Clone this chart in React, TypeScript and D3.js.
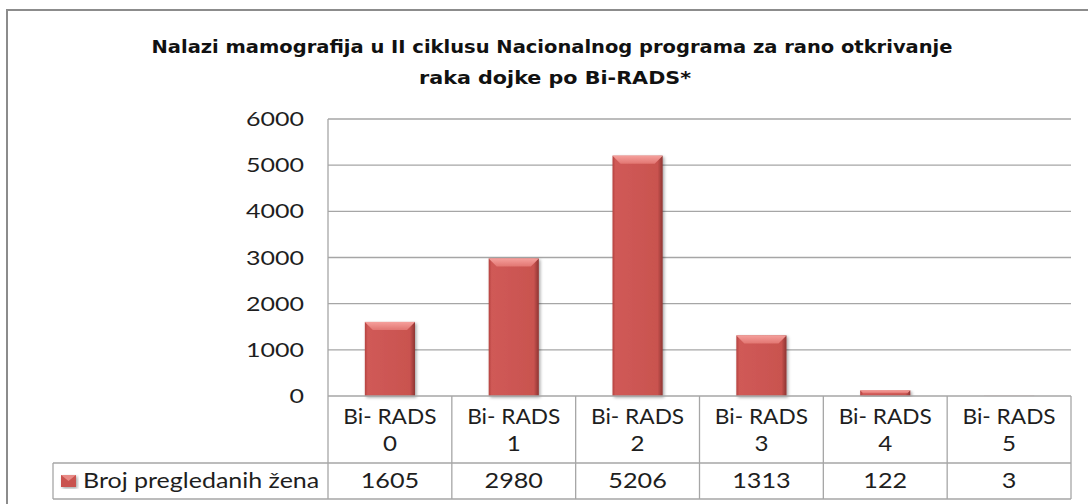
import React from 'react';
import { scaleBand, scaleLinear } from 'd3';

const categories = ['0', '1', '2', '3', '4', '5'];
const categoryPrefix = 'Bi- RADS';
const seriesName = 'Broj pregledanih žena';
const values = [1605, 2980, 5206, 1313, 122, 3];
const yTicks = [0, 1000, 2000, 3000, 4000, 5000, 6000];
const titleLines = [
  'Nalazi mamografija u II ciklusu Nacionalnog programa za rano otkrivanje',
  'raka dojke po Bi-RADS*',
];

const W = 1088;
const H = 504;
const FONT = 'Lato, "Open Sans", sans-serif';

// text stretched horizontally like the original (wide, squat glyphs)
function Txt(props: { x: number; y: number; sx: number; size: number; anchor?: string; children: any }) {
  const { x, y, sx, size, anchor, children } = props;
  return (
    <text
      transform={`translate(${x},${y}) scale(${sx},1)`}
      textAnchor={anchor || 'start'}
      fontSize={size}
      fill="#1e1e1e"
    >
      {children}
    </text>
  );
}

export default function App() {
  const left = 328;
  const right = 1071;
  const top = 119;
  const bottom = 396;
  const row1 = 463;
  const row2 = 499;
  const legendLeft = 53;

  const x = scaleBand<string>().domain(categories).range([left, right]);
  const y = scaleLinear().domain([0, 6000]).range([bottom, top]);
  const bw = x.bandwidth();
  const barW = bw * 0.405;
  const grid = '#a6a6a6';

  return (
    <svg width={W} height={H} style={{ position: 'absolute', left: 0, top: 0, fontFamily: FONT }}>
      <defs>
        <linearGradient id="barSide" x1="0" x2="1" y1="0" y2="0">
          <stop offset="0" stopColor="#b5423f" />
          <stop offset="0.06" stopColor="#d05a57" />
          <stop offset="0.9" stopColor="#c9534f" />
          <stop offset="1" stopColor="#8e3532" />
        </linearGradient>
        <linearGradient id="barTop" x1="0" x2="0" y1="0" y2="1">
          <stop offset="0" stopColor="#f5a09c" />
          <stop offset="1" stopColor="#e27672" />
        </linearGradient>
        <filter id="shadow" x="-20%" y="-5%" width="140%" height="115%">
          <feDropShadow dx="1.5" dy="1.5" stdDeviation="1.5" floodColor="#000" floodOpacity="0.35" />
        </filter>
      </defs>
      <rect x={0} y={0} width={W} height={H} fill="#fff" />
      <rect x={7} y={10} width={1100} height={520} fill="#fff" stroke="#8c8c8c" strokeWidth={2} />

      <text x={552} y={53} textAnchor="middle" fontSize={18.5} fontWeight={700} fill="#111"
        fontFamily='"DejaVu Sans", sans-serif' textLength={801} lengthAdjust="spacingAndGlyphs">
        {titleLines[0]}
      </text>
      <text x={555} y={84} textAnchor="middle" fontSize={18.5} fontWeight={700} fill="#111"
        fontFamily='"DejaVu Sans", sans-serif' textLength={272} lengthAdjust="spacingAndGlyphs">
        {titleLines[1]}
      </text>

      {yTicks.map((t) => (
        <g key={t}>
          {t > 0 && <line x1={left} x2={right} y1={y(t)} y2={y(t)} stroke={grid} strokeWidth={1.3} />}
          <Txt x={304} y={y(t) + 7} sx={1.25} size={20} anchor="end">
            {t}
          </Txt>
        </g>
      ))}
      <line x1={left} x2={left} y1={top} y2={row2} stroke={grid} strokeWidth={1.3} />

      {values.map((v, i) => {
        const bx = (x(categories[i]) as number) + (bw - barW) / 2;
        const by = y(v);
        const bh = bottom - by;
        const bev = Math.min(8, bh / 2);
        return (
          <g key={i} filter="url(#shadow)">
            <rect x={bx} y={by} width={barW} height={bh} fill="url(#barSide)" />
            {bh > 1 && (
              <polygon
                points={`${bx},${by} ${bx + barW},${by} ${bx + barW - bev},${by + bev} ${bx + bev},${by + bev}`}
                fill="url(#barTop)"
              />
            )}
          </g>
        );
      })}

      {/* data table */}
      <line x1={left} x2={right} y1={bottom} y2={bottom} stroke={grid} strokeWidth={1.3} />
      <line x1={legendLeft} x2={right} y1={row1} y2={row1} stroke={grid} strokeWidth={1.3} />
      <line x1={legendLeft} x2={right} y1={row2} y2={row2} stroke={grid} strokeWidth={1.3} />
      <line x1={legendLeft} x2={legendLeft} y1={row1} y2={row2} stroke={grid} strokeWidth={1.3} />
      {categories.map((c, i) => {
        const cx = (x(c) as number) + bw / 2;
        return (
          <g key={c}>
            <line x1={(x(c) as number) + bw} x2={(x(c) as number) + bw} y1={bottom} y2={row2} stroke={grid} strokeWidth={1.3} />
            <Txt x={cx} y={424} sx={1.08} size={21} anchor="middle">
              {categoryPrefix}
            </Txt>
            <Txt x={cx} y={451} sx={1.15} size={21} anchor="middle">
              {c}
            </Txt>
            <Txt x={cx} y={488} sx={1.2} size={21} anchor="middle">
              {values[i]}
            </Txt>
          </g>
        );
      })}
      <g filter="url(#shadow)">
        <rect x={61} y={475} width={15} height={12} fill="#c9534f" />
        <polygon points="61,475 76,475 68.5,481" fill="#e88a86" />
      </g>
      <Txt x={83} y={488} sx={1.19} size={21}>
        {seriesName}
      </Txt>
    </svg>
  );
}
